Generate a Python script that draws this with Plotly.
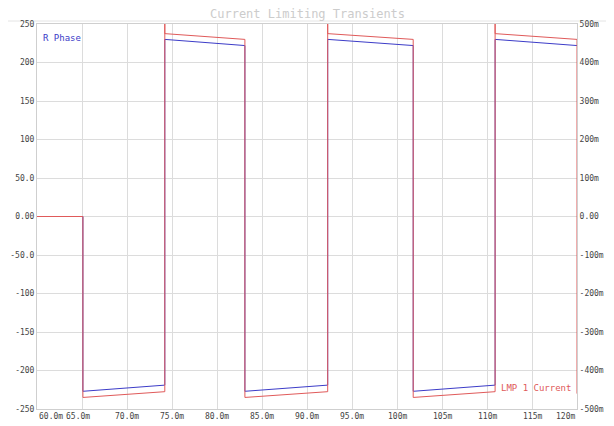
import plotly.graph_objects as go

# ---- data (time in ms) ----
seg_start_ms = [60.0, 65.1, 74.2, 83.1, 92.3, 101.8, 110.9]
seg_end_ms = [65.1, 74.2, 83.1, 92.3, 101.8, 110.9, 120.0]
rphase_start = [0, -227, 230, -227, 230, -227, 230]
rphase_end = [0, -219, 222, -219, 222, -219, 222]
lmp_start = [0, -0.470, 0.475, -0.470, 0.475, -0.470, 0.475]
lmp_end = [0, -0.455, 0.460, -0.455, 0.460, -0.455, 0.460]
lmp_peak = [None, None, 0.53, None, 0.53, None, 0.53]
lmp_final = -0.46  # value after last falling edge at 120 ms

x_ticks = [60, 65, 70, 75, 80, 85, 90, 95, 100, 105, 110, 115, 120]
x_labels = ["60.0m", "65.0m", "70.0m", "75.0m", "80.0m", "85.0m", "90.0m",
            "95.0m", "100m", "105m", "110m", "115m", "120m"]
y_ticks = [250, 200, 150, 100, 50, 0, -50, -100, -150, -200, -250]
y_labels = ["250", "200", "150", "100", "50.0", "0.00", "-50.0", "-100",
            "-150", "-200", "-250"]
y2_ticks = [0.5, 0.4, 0.3, 0.2, 0.1, 0, -0.1, -0.2, -0.3, -0.4, -0.5]
y2_labels = ["500m", "400m", "300m", "200m", "100m", "0.00", "-100m",
             "-200m", "-300m", "-400m", "-500m"]

# build point lists from segments
rx, ry, lx, ly = [], [], [], []
for i in range(len(seg_start_ms)):
    rx += [seg_start_ms[i], seg_end_ms[i]]
    ry += [rphase_start[i], rphase_end[i]]
    if lmp_peak[i] is not None:
        lx.append(seg_start_ms[i])
        ly.append(lmp_peak[i])
    lx += [seg_start_ms[i], seg_end_ms[i]]
    ly += [lmp_start[i], lmp_end[i]]
lx.append(seg_end_ms[-1])
ly.append(lmp_final)

MONO = "DejaVu Sans Mono"
TICKFONT = dict(family=MONO, size=8, color="#444444")
fig = go.Figure()
fig.add_trace(go.Scatter(x=rx, y=ry, mode="lines", name="R Phase",
                         line=dict(color="#3c3cc8", width=1), yaxis="y"))
fig.add_trace(go.Scatter(x=lx, y=ly, mode="lines", name="LMP 1 Current",
                         line=dict(color="#e05a5a", width=1), yaxis="y2",
                         cliponaxis=True))

annotations = []
for i, (t, lab) in enumerate(zip(x_ticks, x_labels)):
    anchor = "center"
    shift = 0
    if i == 0:
        anchor = "left"
    elif i == 1:
        shift = -4
    elif i == len(x_ticks) - 1:
        anchor = "right"
    annotations.append(dict(x=t, y=0, xref="x", yref="paper", text=lab,
                            showarrow=False, xanchor=anchor, yanchor="top",
                            yshift=-1, xshift=shift,
                            font=TICKFONT))

# page has an 8px body margin; figure is sized/offset to compensate
OFF = 8
W, H = 614 - OFF, 426 - OFF
ml, mr, mt, mb = 37 - OFF, 37, 24 - OFF, 17
pw, ph = W - ml - mr, H - mt - mb

def px(x):  # page pixel -> paper
    return (x - OFF - ml) / pw

def py(y):
    return 1 - (y - OFF - mt) / ph

annotations.append(dict(x=px(307), y=py(14), xref="paper", yref="paper",
                        text="Current Limiting Transients", showarrow=False,
                        xanchor="center", yanchor="middle",
                        font=dict(family=MONO, size=12, color="#cccccc")))
annotations.append(dict(x=px(41), y=py(38), xref="paper", yref="paper",
                        text="R Phase", showarrow=False, xanchor="left",
                        yanchor="middle",
                        font=dict(family=MONO, size=9, color="#3c3cc8")))
annotations.append(dict(x=px(573), y=py(388), xref="paper", yref="paper",
                        text="LMP 1 Current", showarrow=False, xanchor="right",
                        yanchor="middle",
                        font=dict(family=MONO, size=9, color="#e05a5a")))

shapes = [
    dict(type="line", xref="paper", yref="paper", x0=px(8), x1=px(613),
         y0=py(21), y1=py(21), line=dict(color="#e4e4e4", width=1),
         layer="below"),
]

fig.update_layout(
    width=W, height=H,
    margin=dict(l=ml, r=mr, t=mt, b=mb, autoexpand=False),
    paper_bgcolor="white", plot_bgcolor="white",
    showlegend=False,
    annotations=annotations,
    shapes=shapes,
    xaxis=dict(range=[60, 120], tickvals=x_ticks, showticklabels=False,
               showgrid=True, gridcolor="#dcdcdc", gridwidth=1,
               zeroline=False, showline=True, linecolor="#cfcfcf",
               mirror=True, ticks="", automargin=False),
    yaxis=dict(range=[-250, 250], tickvals=y_ticks, ticktext=y_labels,
               showgrid=True, gridcolor="#dcdcdc", zeroline=False,
               showline=True, linecolor="#cfcfcf", ticks="",
               automargin=False, tickfont=TICKFONT),
    yaxis2=dict(range=[-0.5, 0.5], tickvals=y2_ticks, ticktext=y2_labels,
                overlaying="y", side="right", showgrid=False,
                zeroline=False, showline=True, linecolor="#cfcfcf",
                ticks="", automargin=False, tickfont=TICKFONT),
)

fig.write_html("out.html")
